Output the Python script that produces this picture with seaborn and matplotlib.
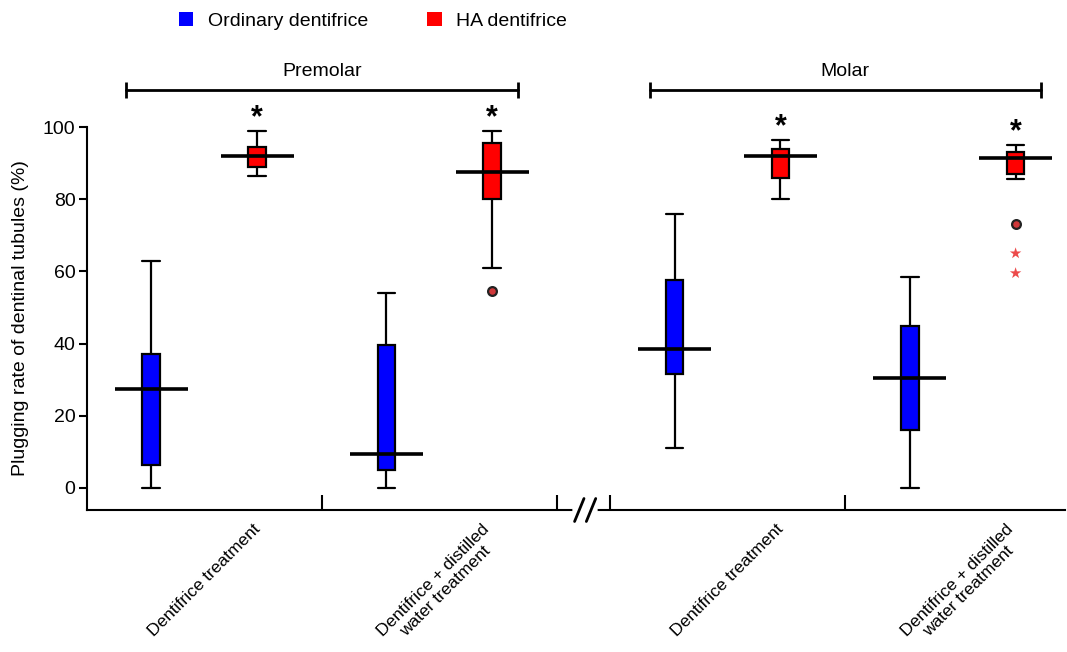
import numpy as np
import pandas as pd
import matplotlib.pyplot as plt
import seaborn as sns

# ---- data (five-number summaries per box) ----
teeth = ["Premolar", "Molar"]
treatments = ["Dentifrice treatment", "Dentifrice + distilled\nwater treatment"]
groups = ["Ordinary dentifrice", "HA dentifrice"]

# order: premolar-DT, premolar-DT+water, molar-DT, molar-DT+water
ord_min = [0.0, 0.0, 11.0, 0.0]
ord_q1 = [6.5, 5.0, 31.5, 16.0]
ord_med = [27.5, 9.5, 38.5, 30.5]
ord_q3 = [37.0, 39.5, 57.5, 45.0]
ord_max = [63.0, 54.0, 76.0, 58.5]

ha_min = [86.5, 61.0, 80.0, 85.5]
ha_q1 = [89.0, 80.0, 86.0, 87.0]
ha_med = [92.0, 87.5, 92.0, 91.5]
ha_q3 = [94.5, 95.5, 94.0, 93.0]
ha_max = [99.0, 99.0, 96.5, 95.0]

# HA outliers: box index, value
ha_out_idx = [1, 3]
ha_out_val = [54.5, 73.0]
ha_extreme_idx = [3, 3]
ha_extreme_val = [65.0, 59.5]

# ---- layout ----
cat_pos = [0.0, 1.0, 2.225, 3.225]
box_w = 0.9
hue_off = box_w / 4
gap_box = 0.833

rows = []
for i, p in enumerate(cat_pos):
    for v in (ord_min[i], ord_q1[i], ord_med[i], ord_q3[i], ord_max[i]):
        rows.append({"pos": p, "group": groups[0], "value": v})
    for v in (ha_min[i], ha_q1[i], ha_med[i], ha_q3[i], ha_max[i]):
        rows.append({"pos": p, "group": groups[1], "value": v})
df = pd.DataFrame(rows)

sns.set_style("ticks")
plt.rcParams["font.family"] = ["Liberation Sans", "DejaVu Sans"]
plt.rcParams["text.color"] = "black"
plt.rcParams["axes.labelcolor"] = "black"
plt.rcParams["xtick.color"] = "black"
plt.rcParams["ytick.color"] = "black"
plt.rcParams["axes.edgecolor"] = "black"

fig = plt.figure(figsize=(10.67, 6.52), dpi=100)
ax = fig.add_axes([86.5 / 1067, 142 / 652, (1065 - 86.5) / 1067, 383 / 652])

palette = {groups[0]: "#0000ff", groups[1]: "#ff0000"}

sns.boxplot(data=df, x="pos", y="value", hue="group", hue_order=groups,
            native_scale=True, palette=palette, saturation=1, width=box_w,
            gap=gap_box, whis=np.inf, linecolor="black", linewidth=1.6,
            capwidths=box_w / 2 * (1 - gap_box),
            legend=True, ax=ax, zorder=3)
# wide median bars
sns.boxplot(data=df, x="pos", y="value", hue="group", hue_order=groups,
            native_scale=True, palette=palette, saturation=1, width=box_w,
            gap=0.31, whis=np.inf, showbox=False, showcaps=False,
            whiskerprops={"visible": False},
            medianprops={"color": "black", "linewidth": 2.6},
            legend=False, ax=ax, zorder=4)

# outliers
out_df = pd.DataFrame({"x": [cat_pos[i] + hue_off for i in ha_out_idx], "y": ha_out_val})
ext_df = pd.DataFrame({"x": [cat_pos[i] + hue_off for i in ha_extreme_idx], "y": ha_extreme_val})
sns.scatterplot(data=out_df, x="x", y="y", marker="o", s=40, color="#d0383a",
                edgecolor="#222222", linewidth=1.6, ax=ax, zorder=5, legend=False)
sns.scatterplot(data=ext_df, x="x", y="y", marker="*", s=75, color="#ec4a4a",
                edgecolor="none", ax=ax, zorder=5, legend=False)

# significance stars above HA boxes
for i, p in enumerate(cat_pos):
    ax.text(p + hue_off, ha_max[i] + 3.5, "*", ha="center", va="center",
            fontsize=22, fontweight="bold", color="black", clip_on=False)

ax.set_xlim(-0.5, 3.66)
ax.set_ylim(-6.1, 100)
ax.set_yticks([0, 20, 40, 60, 80, 100])
ax.tick_params(axis="y", direction="out", length=6, width=1.5, labelsize=14, pad=2)
ax.set_ylabel("Plugging rate of dentinal tubules (%)", fontsize=14, labelpad=10)
ax.set_xlabel("")

# x axis: boundary ticks inward, labels at category centres
ax.set_xticks([0.5, 1.5, 1.725, 2.725])
ax.set_xticklabels([])
ax.tick_params(axis="x", which="major", direction="in", length=11, width=1.5)
ax.set_xticks(cat_pos, minor=True)
ax.set_xticklabels(treatments * 2, minor=True, rotation=45, ha="center",
                   va="top", fontsize=12.5, linespacing=1.1)
ax.tick_params(axis="x", which="minor", length=0, pad=8)

sns.despine(ax=ax)
for s in ("left", "bottom"):
    ax.spines[s].set_linewidth(1.5)

# axis break
xt = ax.get_xaxis_transform()
ax.plot([1.575, 1.66], [0, 0], color="white", lw=4, transform=xt,
        clip_on=False, zorder=6)
for bx in (1.595, 1.645):
    ax.plot([bx - 0.02, bx + 0.02], [-0.03, 0.03], color="black", lw=2,
            transform=xt, clip_on=False, zorder=7)

# tooth brackets
for t, (a, b) in zip(teeth, [(0, 1), (2, 3)]):
    ax.plot([cat_pos[a] - 0.33, cat_pos[b] + 0.335], [110.2, 110.2], color="black",
            lw=2, marker="|", ms=12, mew=2, clip_on=False)
    ax.text((cat_pos[a] + cat_pos[b]) / 2, 115.4, t, ha="center", va="center",
            fontsize=14, clip_on=False)

# legend at top
handles, labels = ax.get_legend_handles_labels()
if ax.legend_:
    ax.legend_.remove()
leg = fig.legend(handles, labels, loc="center left",
                 bbox_to_anchor=(161 / 1067, 1 - 21 / 652), ncol=2,
                 frameon=False, fontsize=14, handlelength=0.75, handleheight=0.75,
                 columnspacing=3.05, handletextpad=0.75)
for h in leg.legend_handles:
    h.set_edgecolor("none")

fig.savefig("out.png", dpi=100)
